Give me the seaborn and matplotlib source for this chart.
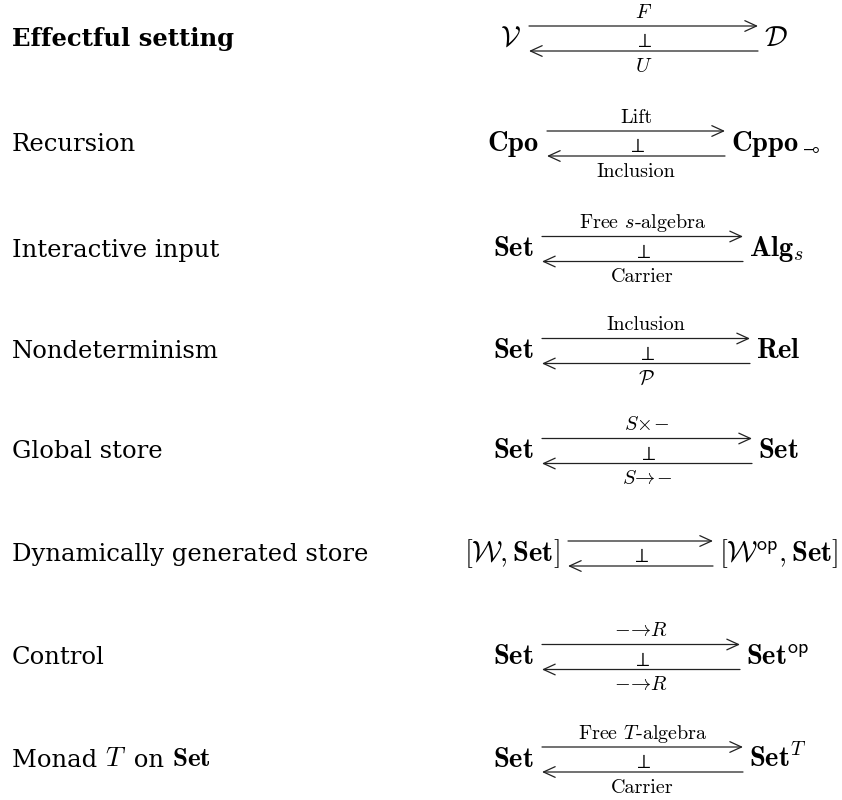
import matplotlib
matplotlib.use("Agg")
import matplotlib.pyplot as plt
import seaborn as sns

# table content: setting, left object, right object, left adjoint (top), right adjoint (bottom)
settings = ["Effectful setting", "Recursion", "Interactive input", "Nondeterminism",
            "Global store", "Dynamically generated store", "Control",
            ["Monad ", r"$T$", " on ", r"$\mathbf{Set}$"]]
left_objs = [r"$\mathcal{V}$", r"$\mathbf{Cpo}$", r"$\mathbf{Set}$", r"$\mathbf{Set}$",
             r"$\mathbf{Set}$", r"$[\mathcal{W},\mathbf{Set}]$", r"$\mathbf{Set}$", r"$\mathbf{Set}$"]
right_objs = [r"$\mathcal{D}$", r"$\mathbf{Cppo}_{\multimap}$", r"$\mathbf{Alg}_s$",
              r"$\mathbf{Rel}$", r"$\mathbf{Set}$", r"$[\mathcal{W}^{\mathsf{op}},\mathbf{Set}]$",
              r"$\mathbf{Set}^{\mathsf{op}}$", r"$\mathbf{Set}^T$"]
left_adj = [r"$F$", "Lift", r"Free $s$-algebra", "Inclusion", r"$S\!\times\!\!-$", "",
            r"$-\!\to\! R$", r"Free $T$-algebra"]
right_adj = [r"$U$", "Inclusion", "Carrier", r"$\mathcal{P}$", r"$S\!\to\!\!-$", "",
             r"$-\!\to\! R$", "Carrier"]

# layout (pixels, y downwards)
ROW_MID = [38.5, 143.5, 249, 351, 451, 553.5, 657, 759.5]
ARROW_X = [(529, 758), (547, 725), (542, 743), (542, 750), (542, 752),
           (568, 713), (542, 740), (542, 743)]
HALF_GAP = 12.5
LABEL_FS = 17.5
OBJ_FS = 20.5
ADJ_FS = 14.5

sns.set_theme(style="white")
plt.rcParams['mathtext.fontset'] = 'cm'
plt.rcParams['font.family'] = ['DejaVu Serif']
plt.rcParams['text.color'] = 'black'

fig = plt.figure(figsize=(8.42, 8.0), dpi=100)
ax = fig.add_axes([0, 0, 1, 1])
ax.set_xlim(0, 842)
ax.set_ylim(800, 0)
ax.axis('off')

for i, name in enumerate(settings):
    y = ROW_MID[i]
    x0, x1 = ARROW_X[i]
    if isinstance(name, list):
        # cm math looks small beside DejaVu text, so chain the pieces with bigger math
        prev = ax.text(12, y + 7.5, name[0], fontsize=LABEL_FS, va='baseline', ha='left')
        for part in name[1:]:
            fs = LABEL_FS + 2 if part.startswith('$') else LABEL_FS
            prev = ax.annotate(part, xy=(1, 0), xycoords=prev, fontsize=fs,
                               va='bottom', ha='left', color='black')
    else:
        ax.text(12, y + 7.5, name, fontsize=LABEL_FS, va='baseline', ha='left',
                fontweight='bold' if i == 0 else 'normal')

    # objects
    ax.text(x0 - 8, y + 7.5, left_objs[i], fontsize=OBJ_FS, ha='right', va='baseline')
    ax.text(x1 + 6, y + 7.5, right_objs[i], fontsize=OBJ_FS, ha='left', va='baseline')

    # arrows
    yt, yb = y - HALF_GAP, y + HALF_GAP
    aprops = dict(arrowstyle='->, head_length=0.7, head_width=0.32', lw=0.9,
                  color='#222222', shrinkA=0, shrinkB=0, mutation_scale=12)
    ax.annotate('', xy=(x1, yt), xytext=(x0, yt), arrowprops=aprops)
    ax.annotate('', xy=(x0, yb), xytext=(x1, yb), arrowprops=aprops)

    xm = (x0 + x1) / 2
    ax.text(xm, yb - 4, r"$\perp$", fontsize=ADJ_FS, ha='center', va='baseline')
    if left_adj[i]:
        ax.text(xm, yt - 8, left_adj[i], fontsize=ADJ_FS, ha='center', va='baseline',
                family='cmr10')
    if right_adj[i]:
        ax.text(xm, yb + 21, right_adj[i], fontsize=ADJ_FS, ha='center', va='baseline',
                family='cmr10')

fig.savefig('out.png', dpi=100, facecolor='white')
